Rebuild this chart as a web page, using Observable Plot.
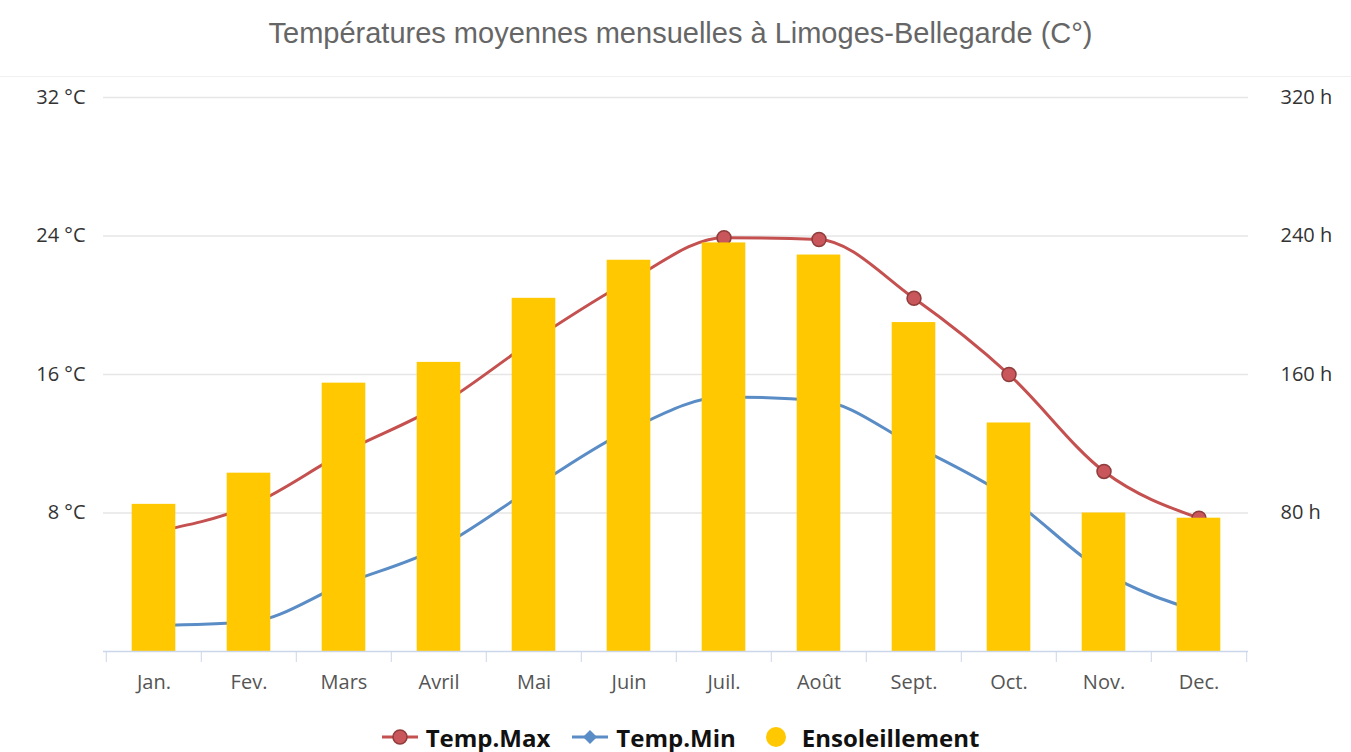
<!DOCTYPE html>
<html>
<head>
<meta charset="utf-8">
<script src="https://cdn.jsdelivr.net/npm/d3@7"></script>
<script src="https://cdn.jsdelivr.net/npm/@observablehq/plot@0.6"></script>
<style>
  html, body { margin: 0; padding: 0; background: #fff; }
  body { width: 1351px; }
  #title {
    height: 77px; line-height: 66px; text-align: center;
    font-family: "Liberation Sans", Arial, sans-serif; font-size: 29px; color: #666;
    border-bottom: 1px solid #f0f0f0; box-sizing: border-box; padding-left: 10px;
  }
  #chart svg { display: block; }
  #legend {
    height: 76px; display: flex; justify-content: center; align-items: center;
    font-family: "Open Sans", sans-serif; font-weight: bold; font-size: 24px; color: #111;
    padding-left: 10px;
  }
  .item { display: flex; align-items: center; margin: 0 11px; }
  .item svg { margin-right: 8px; }
</style>
</head>
<body>
<div id="title">Températures moyennes mensuelles à Limoges-Bellegarde (C°)</div>
<div id="chart"></div>
<div id="legend"></div>
<script>
// ---- data ----
const months = ["Jan.", "Fev.", "Mars", "Avril", "Mai", "Juin", "Juil.", "Août", "Sept.", "Oct.", "Nov.", "Dec."];
const tempMax = [6.9, 8.4, 11.5, 14.2, 18.0, 21.4, 23.9, 23.8, 20.4, 16.0, 10.4, 7.7];
const tempMin = [1.5, 1.7, 3.9, 6.0, 9.5, 12.8, 14.7, 14.5, 11.9, 8.9, 4.6, 2.3];
const sunHours = [85, 103, 155, 167, 204, 226, 236, 229, 190, 132, 80, 77];
const tempTicks = [8, 16, 24, 32];
const sunTicks = [80, 160, 240, 320];
const seriesNames = ["Temp.Max", "Temp.Min", "Ensoleillement"];

// ---- style ----
const colMax = "#c4504f", colMaxFill = "#c9565a", colMaxStroke = "#8f3c3c";
const colMin = "#5a8cc6";
const colSun = "#ffc800";
const ratio = 10; // 320 h <-> 32 °C

const data = months.map((m, i) => ({month: m, tmax: tempMax[i], tmin: tempMin[i], sun: sunHours[i]}));

const W = 1351, H = 622;
const mL = 103, mR = 103, mT = 20, mB = 48;
const bw = (W - mL - mR) / months.length;

const chart = Plot.plot({
  width: W, height: H,
  marginLeft: mL, marginRight: mR, marginTop: mT, marginBottom: mB,
  style: {fontFamily: "'Open Sans', sans-serif", fontSize: "20px", color: "#444", background: "#fff", overflow: "visible"},
  x: {type: "band", domain: months, padding: 0},
  y: {domain: [0, 32]},
  marks: [
    Plot.gridY(tempTicks, {stroke: "#e6e6e6", strokeOpacity: 1, strokeWidth: 1.5}),
    Plot.axisY(tempTicks, {anchor: "left", tickSize: 0, tickPadding: 18, fontSize: 20, fill: "#333", tickFormat: d => `${d} °C`, label: null}),
    Plot.axisY(sunTicks.map(d => d / ratio), {anchor: "right", tickSize: 0, tickPadding: 32, fontSize: 20, fill: "#333", tickFormat: d => `${d * ratio} h`, label: null}),
    Plot.line(data, {x: "month", y: "tmin", stroke: colMin, strokeWidth: 3, curve: "monotone-x"}),
    Plot.dot(data, {x: "month", y: "tmin", r: 6, symbol: "diamond", fill: colMin}),
    Plot.line(data, {x: "month", y: "tmax", stroke: colMax, strokeWidth: 3, curve: "monotone-x"}),
    Plot.dot(data, {x: "month", y: "tmax", r: 7, fill: colMaxFill, stroke: colMaxStroke, strokeWidth: 1.5}),
    Plot.barY(data, {x: "month", y: d => d.sun / ratio, fill: colSun, insetLeft: 25.7, insetRight: 25.7}),
    Plot.ruleY([0], {stroke: "#ccd6eb", strokeWidth: 1.5}),
    Plot.axisX({tickSize: 0, tickPadding: 23, fontSize: 20, label: null, fill: "#555"}),
    Plot.axisX({tickSize: 11, tickFormat: () => "", dx: -bw / 2, stroke: "#ccd6eb", label: null}),
    Plot.axisX([months[months.length - 1]], {tickSize: 11, tickFormat: () => "", dx: bw / 2, stroke: "#ccd6eb", label: null})
  ]
});
document.getElementById("chart").appendChild(chart);

// ---- legend ----
const legend = d3.select("#legend");
const symbols = [
  s => { s.append("line").attr("x1", 0).attr("x2", 36).attr("y1", 10).attr("y2", 10).attr("stroke", colMax).attr("stroke-width", 3);
         s.append("circle").attr("cx", 18).attr("cy", 10).attr("r", 7).attr("fill", colMaxFill).attr("stroke", colMaxStroke).attr("stroke-width", 1.5); },
  s => { s.append("line").attr("x1", 0).attr("x2", 36).attr("y1", 10).attr("y2", 10).attr("stroke", colMin).attr("stroke-width", 3);
         s.append("path").attr("d", "M18,3L25,10L18,17L11,10Z").attr("fill", colMin); },
  s => { s.append("circle").attr("cx", 18).attr("cy", 10).attr("r", 10).attr("fill", colSun); }
];
seriesNames.forEach((name, i) => {
  const item = legend.append("span").attr("class", "item");
  const svg = item.append("svg").attr("width", 36).attr("height", 20);
  symbols[i](svg);
  item.append("span").text(name);
});
</script>
</body>
</html>
